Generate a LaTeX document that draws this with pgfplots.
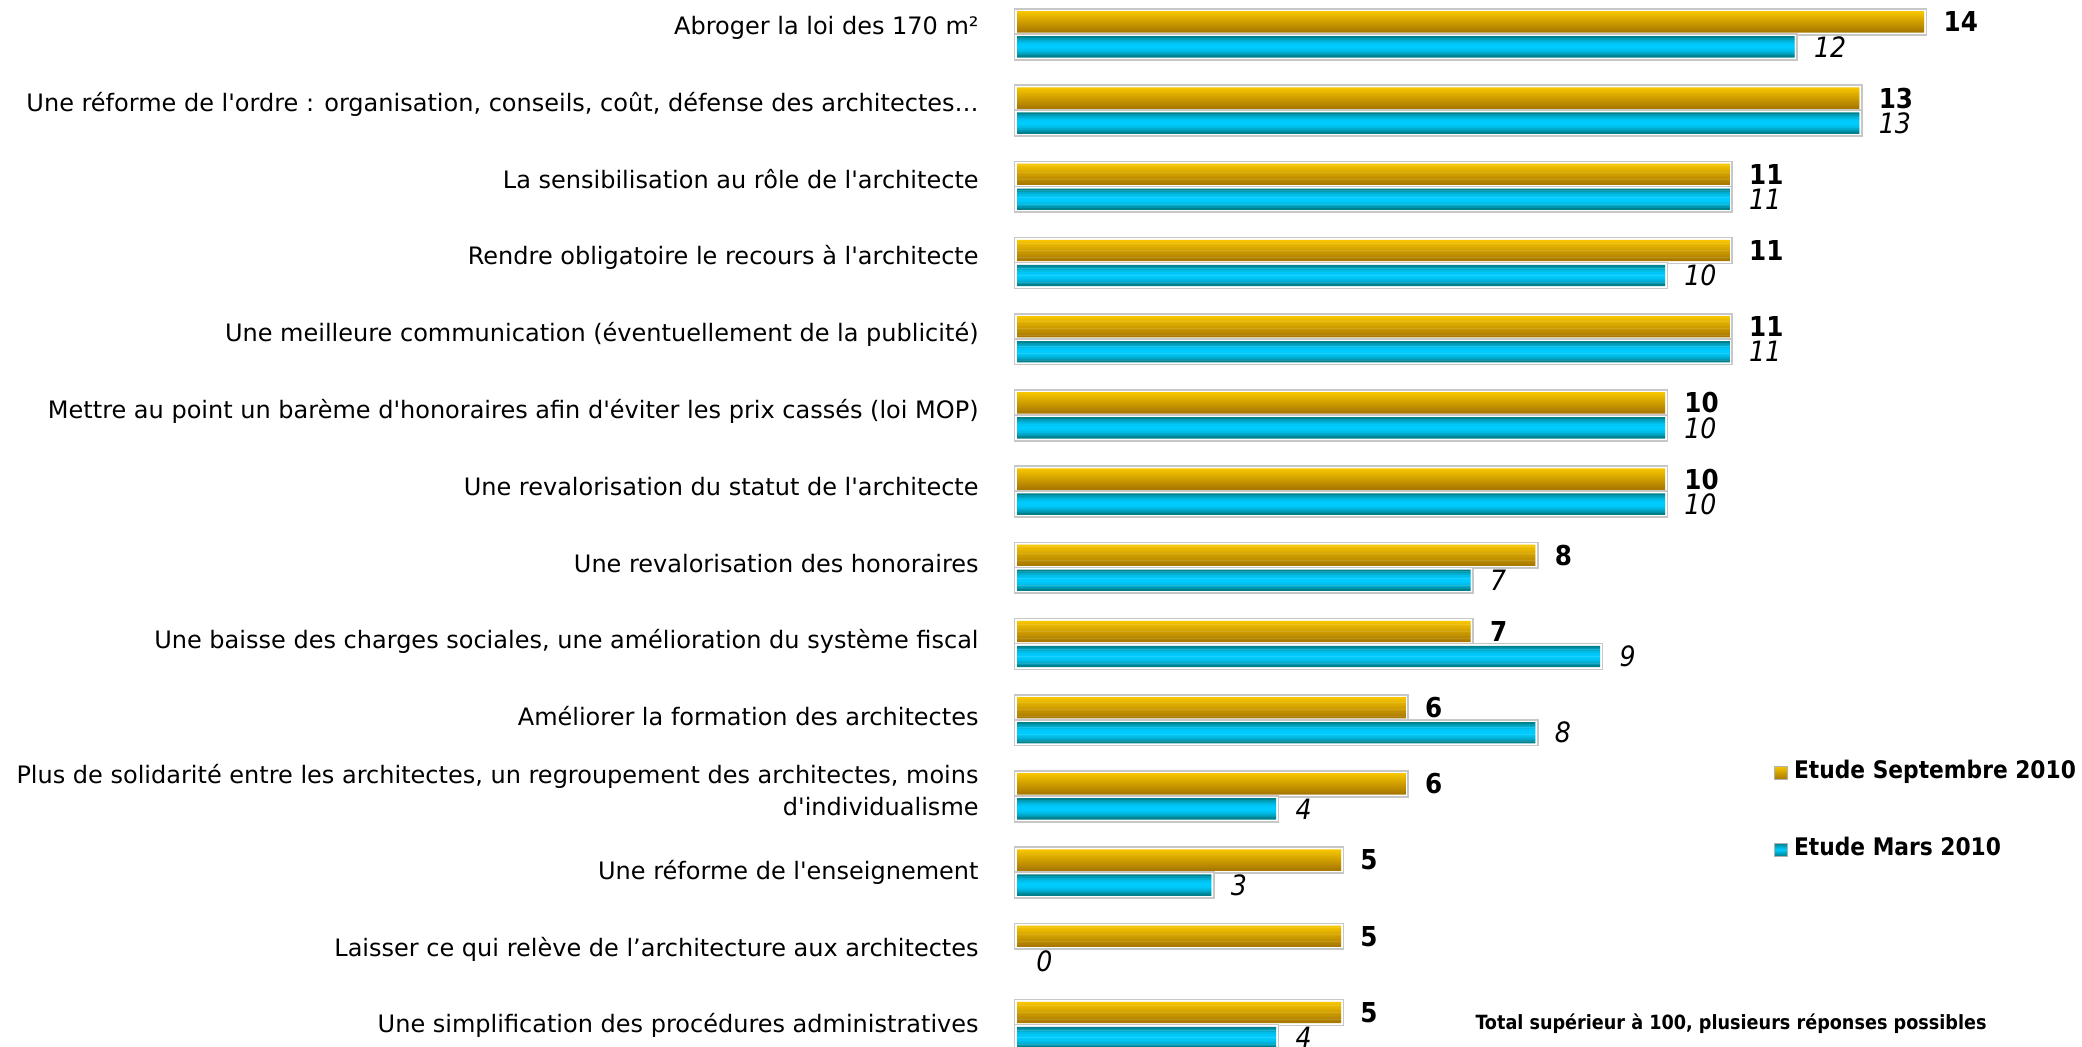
\documentclass[border=0pt]{standalone}
\usepackage{fontspec}
\setmainfont{DejaVu Sans Condensed}
\newfontfamily\labfont{DejaVu Sans}
\usepackage{pgfplots}
\usepackage{pgfplotstable}
\pgfplotsset{compat=1.18}
\definecolor{orTop}{HTML}{F8C600}
\definecolor{orBot}{HTML}{AA7A00}
\definecolor{cyMid}{HTML}{00CCFF}
\definecolor{cyEdge}{HTML}{00808C}
% colour bands for the bar gradients (top to bottom)
\foreach \i in {0,...,11}{
  \pgfmathtruncatemacro\p{100-\i*100/11}
  \xglobal\colorlet{orB\i}{orTop!\p!orBot}
  \pgfmathtruncatemacro\q{100*(1-(abs(\i-5.5)/5.5)^2)}
  \xglobal\colorlet{cyB\i}{cyMid!\q!cyEdge}
}

% pos = row (14 at top), sep = Etude Septembre 2010, mar = Etude Mars 2010
\pgfplotstableread{
pos sep mar
14 14 12
13 13 13
12 11 11
11 11 10
10 11 11
9  10 10
8  10 10
7  8  7
6  7  9
5  6  8
4  6  4
3  5  3
2  5  0
1  5  4
}\data

\begin{document}
\begin{tikzpicture}
\useasboundingbox (0,0) rectangle (1041pt,523pt);
\begin{axis}[
  at={(508.5pt,-8.55pt)}, anchor=south west,
  scale only axis, width=518.4pt, height=533.4pt,
  xmin=0, xmax=16, ymin=0.5, ymax=14.5,
  axis line style={draw=none},
  xtick=\empty,
  % label baselines drift slightly below the bar rows towards the bottom
  ytick={0.896,1.904,2.912,3.920,4.928,5.936,6.944,7.951,8.959,9.967,10.975,11.983,12.991,13.999},
  yticklabels={
    Une simplification des procédures administratives,
    Laisser ce qui relève de l’architecture aux architectes,
    Une réforme de l\textquotesingle enseignement,
    {\raisebox{9.3pt}{\begin{tabular}[t]{@{}r@{}}Plus de solidarité entre les architectes, un regroupement des architectes, moins\\d\textquotesingle individualisme\end{tabular}}},
    Améliorer la formation des architectes,
    {Une baisse des charges sociales, une amélioration du système fiscal},
    Une revalorisation des honoraires,
    Une revalorisation du statut de l\textquotesingle architecte,
    Mettre au point un barème d\textquotesingle honoraires afin d\textquotesingle éviter les prix cassés (loi MOP),
    Une meilleure communication (éventuellement de la publicité),
    Rendre obligatoire le recours à l\textquotesingle architecte,
    La sensibilisation au rôle de l\textquotesingle architecte,
    {Une réforme de l\textquotesingle ordre : organisation, conseils, coût, défense des architectes…},
    Abroger la loi des 170 m²
  },
  major tick length=0pt,
  yticklabel style={font=\labfont\fontsize{12}{16}\selectfont, anchor=base east, inner sep=0pt, xshift=-19pt},
  clip=false,
  /pgf/number format/assume math mode=true,
  point meta=x,
  legend cell align=left,
  legend style={at={(rel axis cs:0.730,0.284)}, anchor=north west, draw=none, fill=none,
    inner sep=0pt, row sep=26.5pt, column sep=3pt,
    nodes={inner sep=0pt, text height=9pt, text depth=3pt, font=\bfseries\fontsize{12.1}{14}\selectfont}},
]
% bar frames
\addplot[xbar, forget plot, bar width=10.5pt, bar shift=6.25pt, fill=white, draw=white, line width=1.6pt,
  preaction={draw=black!22, line width=3.2pt},
  x filter/.expression={x==0 ? nan : x}, unbounded coords=discard]
  table[x=sep, y=pos] {\data};
\addplot[xbar, forget plot, bar width=10.5pt, bar shift=-6.25pt, fill=white, draw=white, line width=1.6pt,
  preaction={draw=black!22, line width=3.2pt},
  x filter/.expression={x==0 ? nan : x}, unbounded coords=discard]
  table[x=mar, y=pos] {\data};
% gradient bands
\pgfplotsinvokeforeach{0,...,11}{
  \addplot[xbar, forget plot, draw=none, fill=orB#1, bar width=1.05pt,
    bar shift={11.5pt-(#1+0.5)*0.875pt},
    x filter/.expression={x==0 ? nan : x}, unbounded coords=discard] table[x=sep, y=pos] {\data};
  \addplot[xbar, forget plot, draw=none, fill=cyB#1, bar width=1.05pt,
    bar shift={-1pt-(#1+0.5)*0.875pt},
    x filter/.expression={x==0 ? nan : x}, unbounded coords=discard] table[x=mar, y=pos] {\data};
}
% value labels
\addplot[xbar, forget plot, bar width=10.5pt, bar shift=6.25pt, draw=none, fill=none,
  nodes near coords, nodes near coords align=horizontal,
  every node near coord/.append style={anchor=west, inner sep=0pt, xshift=9.5pt, yshift=6.25pt,
    font=\bfseries\fontsize{13.7}{14}\selectfont, text=black}]
  table[x=sep, y=pos] {\data};
\addplot[xbar, forget plot, bar width=10.5pt, bar shift=-6.25pt, draw=none, fill=none,
  nodes near coords, nodes near coords align=horizontal,
  every node near coord/.append style={anchor=west, inner sep=0pt, xshift=9.5pt, yshift=-6.25pt,
    font=\itshape\fontsize{14}{14}\selectfont, text=black}]
  table[x=mar, y=pos] {\data};
\addlegendimage{legend image code/.code={\draw[draw=black!30, top color=orTop, bottom color=orBot] (0pt,-3.25pt) rectangle (6.5pt,3.25pt);}}
\addlegendentry{Etude Septembre 2010}
\addlegendimage{legend image code/.code={\draw[draw=black!30, top color=cyEdge, bottom color=cyEdge, middle color=cyMid] (0pt,-3.25pt) rectangle (6.5pt,3.25pt);}}
\addlegendentry{Etude Mars 2010}
\end{axis}
\node[font=\bfseries\fontsize{9.8}{12}\selectfont] at (865.5pt,11pt) {Total supérieur à 100, plusieurs réponses possibles};
\end{tikzpicture}
\end{document}
